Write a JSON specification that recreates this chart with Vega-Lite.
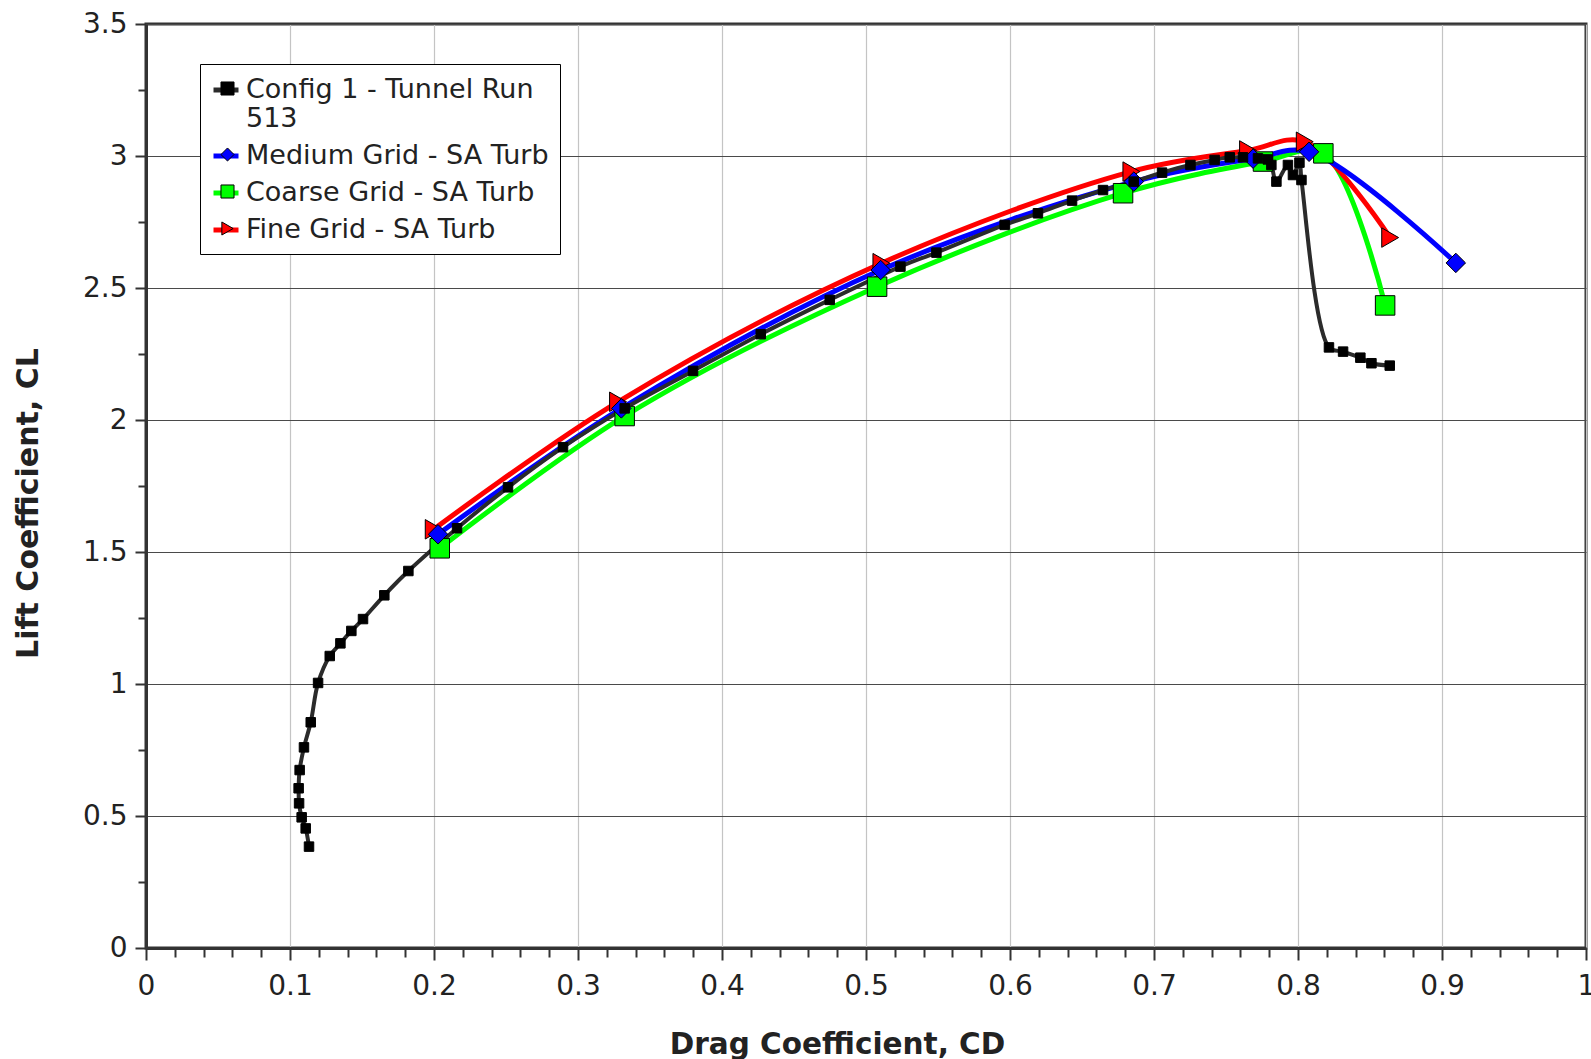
{
  "$schema": "https://vega.github.io/schema/vega-lite/v6.json",
  "width": 1440,
  "height": 924,
  "autosize": {"type": "none"},
  "padding": {"left": 146, "top": 24, "right": 5, "bottom": 111},
  "background": "white",
  "config": {"font": "DejaVu Sans", "view": {"stroke": "#333333", "strokeWidth": 3}},
  "data": {"values": [
    {"s": "Coarse Grid - SA Turb", "i": 0, "cd": 0.204, "cl": 1.514},
    {"s": "Coarse Grid - SA Turb", "i": 1, "cd": 0.3324, "cl": 2.015},
    {"s": "Coarse Grid - SA Turb", "i": 2, "cd": 0.5077, "cl": 2.505},
    {"s": "Coarse Grid - SA Turb", "i": 3, "cd": 0.6785, "cl": 2.859},
    {"s": "Coarse Grid - SA Turb", "i": 4, "cd": 0.7757, "cl": 2.979},
    {"s": "Coarse Grid - SA Turb", "i": 5, "cd": 0.8176, "cl": 3.01},
    {"s": "Coarse Grid - SA Turb", "i": 6, "cd": 0.8605, "cl": 2.434},
    {"s": "Fine Grid - SA Turb", "i": 0, "cd": 0.1998, "cl": 1.586},
    {"s": "Fine Grid - SA Turb", "i": 1, "cd": 0.3278, "cl": 2.069},
    {"s": "Fine Grid - SA Turb", "i": 2, "cd": 0.5107, "cl": 2.594},
    {"s": "Fine Grid - SA Turb", "i": 3, "cd": 0.6843, "cl": 2.941},
    {"s": "Fine Grid - SA Turb", "i": 4, "cd": 0.7653, "cl": 3.021},
    {"s": "Fine Grid - SA Turb", "i": 5, "cd": 0.8047, "cl": 3.054},
    {"s": "Fine Grid - SA Turb", "i": 6, "cd": 0.8640, "cl": 2.691},
    {"s": "Medium Grid - SA Turb", "i": 0, "cd": 0.2028, "cl": 1.567},
    {"s": "Medium Grid - SA Turb", "i": 1, "cd": 0.3301, "cl": 2.044},
    {"s": "Medium Grid - SA Turb", "i": 2, "cd": 0.5102, "cl": 2.568},
    {"s": "Medium Grid - SA Turb", "i": 3, "cd": 0.686, "cl": 2.903},
    {"s": "Medium Grid - SA Turb", "i": 4, "cd": 0.7688, "cl": 2.99},
    {"s": "Medium Grid - SA Turb", "i": 5, "cd": 0.8077, "cl": 3.016},
    {"s": "Medium Grid - SA Turb", "i": 6, "cd": 0.9096, "cl": 2.595},
    {"s": "Config 1 - Tunnel Run 513", "i": 0, "cd": 0.1132, "cl": 0.384},
    {"s": "Config 1 - Tunnel Run 513", "i": 1, "cd": 0.1109, "cl": 0.453},
    {"s": "Config 1 - Tunnel Run 513", "i": 2, "cd": 0.1081, "cl": 0.495},
    {"s": "Config 1 - Tunnel Run 513", "i": 3, "cd": 0.1063, "cl": 0.548},
    {"s": "Config 1 - Tunnel Run 513", "i": 4, "cd": 0.106, "cl": 0.605},
    {"s": "Config 1 - Tunnel Run 513", "i": 5, "cd": 0.1067, "cl": 0.674},
    {"s": "Config 1 - Tunnel Run 513", "i": 6, "cd": 0.1097, "cl": 0.76},
    {"s": "Config 1 - Tunnel Run 513", "i": 7, "cd": 0.1144, "cl": 0.855},
    {"s": "Config 1 - Tunnel Run 513", "i": 8, "cd": 0.1195, "cl": 1.004},
    {"s": "Config 1 - Tunnel Run 513", "i": 9, "cd": 0.1276, "cl": 1.106},
    {"s": "Config 1 - Tunnel Run 513", "i": 10, "cd": 0.135, "cl": 1.154},
    {"s": "Config 1 - Tunnel Run 513", "i": 11, "cd": 0.1426, "cl": 1.201},
    {"s": "Config 1 - Tunnel Run 513", "i": 12, "cd": 0.1507, "cl": 1.246},
    {"s": "Config 1 - Tunnel Run 513", "i": 13, "cd": 0.1655, "cl": 1.336},
    {"s": "Config 1 - Tunnel Run 513", "i": 14, "cd": 0.1822, "cl": 1.428},
    {"s": "Config 1 - Tunnel Run 513", "i": 15, "cd": 0.216, "cl": 1.59},
    {"s": "Config 1 - Tunnel Run 513", "i": 16, "cd": 0.2514, "cl": 1.745},
    {"s": "Config 1 - Tunnel Run 513", "i": 17, "cd": 0.2896, "cl": 1.897},
    {"s": "Config 1 - Tunnel Run 513", "i": 18, "cd": 0.3324, "cl": 2.044},
    {"s": "Config 1 - Tunnel Run 513", "i": 19, "cd": 0.3799, "cl": 2.186},
    {"s": "Config 1 - Tunnel Run 513", "i": 20, "cd": 0.4269, "cl": 2.325},
    {"s": "Config 1 - Tunnel Run 513", "i": 21, "cd": 0.4748, "cl": 2.455},
    {"s": "Config 1 - Tunnel Run 513", "i": 22, "cd": 0.5239, "cl": 2.581},
    {"s": "Config 1 - Tunnel Run 513", "i": 23, "cd": 0.5489, "cl": 2.634},
    {"s": "Config 1 - Tunnel Run 513", "i": 24, "cd": 0.5963, "cl": 2.739},
    {"s": "Config 1 - Tunnel Run 513", "i": 25, "cd": 0.6194, "cl": 2.783},
    {"s": "Config 1 - Tunnel Run 513", "i": 26, "cd": 0.6431, "cl": 2.831},
    {"s": "Config 1 - Tunnel Run 513", "i": 27, "cd": 0.6646, "cl": 2.871},
    {"s": "Config 1 - Tunnel Run 513", "i": 28, "cd": 0.6859, "cl": 2.903},
    {"s": "Config 1 - Tunnel Run 513", "i": 29, "cd": 0.7056, "cl": 2.937},
    {"s": "Config 1 - Tunnel Run 513", "i": 30, "cd": 0.7253, "cl": 2.966},
    {"s": "Config 1 - Tunnel Run 513", "i": 31, "cd": 0.7421, "cl": 2.985},
    {"s": "Config 1 - Tunnel Run 513", "i": 32, "cd": 0.7526, "cl": 2.995},
    {"s": "Config 1 - Tunnel Run 513", "i": 33, "cd": 0.7618, "cl": 2.995},
    {"s": "Config 1 - Tunnel Run 513", "i": 34, "cd": 0.7722, "cl": 2.991},
    {"s": "Config 1 - Tunnel Run 513", "i": 35, "cd": 0.779, "cl": 2.987},
    {"s": "Config 1 - Tunnel Run 513", "i": 36, "cd": 0.7815, "cl": 2.966},
    {"s": "Config 1 - Tunnel Run 513", "i": 37, "cd": 0.785, "cl": 2.903},
    {"s": "Config 1 - Tunnel Run 513", "i": 38, "cd": 0.793, "cl": 2.966},
    {"s": "Config 1 - Tunnel Run 513", "i": 39, "cd": 0.7965, "cl": 2.928},
    {"s": "Config 1 - Tunnel Run 513", "i": 40, "cd": 0.801, "cl": 2.975},
    {"s": "Config 1 - Tunnel Run 513", "i": 41, "cd": 0.8024, "cl": 2.909},
    {"s": "Config 1 - Tunnel Run 513", "i": 42, "cd": 0.8215, "cl": 2.275},
    {"s": "Config 1 - Tunnel Run 513", "i": 43, "cd": 0.8313, "cl": 2.259},
    {"s": "Config 1 - Tunnel Run 513", "i": 44, "cd": 0.8433, "cl": 2.236},
    {"s": "Config 1 - Tunnel Run 513", "i": 45, "cd": 0.851, "cl": 2.215},
    {"s": "Config 1 - Tunnel Run 513", "i": 46, "cd": 0.8637, "cl": 2.206}
  ]},
  "encoding": {
    "x": {
      "field": "cd", "type": "quantitative",
      "scale": {"domain": [0, 1], "nice": false, "zero": false},
      "axis": {
        "title": "Drag Coefficient, CD",
        "values": [0,0.02,0.04,0.06,0.08,0.1,0.12,0.14,0.16,0.18,0.2,0.22,0.24,0.26,0.28,0.3,0.32,0.34,0.36,0.38,0.4,0.42,0.44,0.46,0.48,0.5,0.52,0.54,0.56,0.58,0.6,0.62,0.64,0.66,0.68,0.7,0.72,0.74,0.76,0.78,0.8,0.82,0.84,0.86,0.88,0.9,0.92,0.94,0.96,0.98,1],
        "labelExpr": "abs(datum.value*10 - round(datum.value*10)) < 0.001 ? format(datum.value, '.1~f') : ''",
        "labelOverlap": false,
        "labelFlush": false,
        "labelFontSize": 28,
        "labelColor": "#222222",
        "labelPadding": 12,
        "tickSize": {"condition": {"test": "abs(datum.value*10 - round(datum.value*10)) < 0.001", "value": 12}, "value": 9},
        "tickColor": "#333333",
        "tickWidth": 2,
        "domainColor": "#333333",
        "domainWidth": 3,
        "grid": true,
        "gridColor": "#c4c4c4",
        "gridWidth": 1.2,
        "gridOpacity": {"condition": {"test": "abs(datum.value*10 - round(datum.value*10)) < 0.001", "value": 1}, "value": 0},
        "titleFontSize": 29.5,
        "titleFontWeight": "bold",
        "titleColor": "#222222",
        "titleX": 691,
        "titleY": 105,
        "titleBaseline": "alphabetic",
        "titleAlign": "center"
      }
    },
    "y": {
      "field": "cl", "type": "quantitative",
      "scale": {"domain": [0, 3.5], "nice": false, "zero": false},
      "axis": {
        "title": "Lift Coefficient, CL",
        "values": [0,0.25,0.5,0.75,1,1.25,1.5,1.75,2,2.25,2.5,2.75,3,3.25,3.5],
        "labelExpr": "abs(datum.value*2 - round(datum.value*2)) < 0.001 ? format(datum.value, '.1~f') : ''",
        "labelOverlap": false,
        "labelFlush": false,
        "labelFontSize": 28,
        "labelColor": "#222222",
        "labelPadding": 8,
        "tickSize": {"condition": {"test": "abs(datum.value*2 - round(datum.value*2)) < 0.001", "value": 11}, "value": 8},
        "tickColor": "#333333",
        "tickWidth": 2,
        "domainColor": "#333333",
        "domainWidth": 3,
        "grid": true,
        "gridColor": "#4a4a4a",
        "gridWidth": 1.2,
        "gridOpacity": {"condition": {"test": "abs(datum.value*2 - round(datum.value*2)) < 0.001", "value": 1}, "value": 0},
        "titleFontSize": 30,
        "titleFontWeight": "bold",
        "titleColor": "#222222",
        "titleAngle": -90,
        "titleX": -109,
        "titleY": 479,
        "titleBaseline": "alphabetic",
        "titleAlign": "center"
      }
    }
  },
  "layer": [
    {
      "mark": {"type": "line", "interpolate": "catmull-rom"},
      "encoding": {
        "order": {"field": "i", "type": "quantitative"},
        "strokeWidth": {"condition": {"test": "datum.s == 'Config 1 - Tunnel Run 513'", "value": 4}, "value": 5},
        "stroke": {
          "field": "s", "type": "nominal",
          "sort": ["Config 1 - Tunnel Run 513", "Medium Grid - SA Turb", "Coarse Grid - SA Turb", "Fine Grid - SA Turb"],
          "scale": {"range": ["#2b2b2b", "#0000ff", "#00ff00", "#ff0000"]},
          "legend": {"orient": "none", "legendX": 54, "legendY": 40, "title": null, "padding": 11, "rowPadding": 9, "fillColor": "white", "strokeColor": "black", "symbolType": "stroke", "symbolSize": 625, "symbolStrokeWidth": 5, "labelFontSize": 27, "labelColor": "#222222", "labelLimit": 1000, "labelOffset": 5, "labelExpr": "datum.label == 'Config 1 - Tunnel Run 513' ? ['Config 1 - Tunnel Run', '513'] : datum.label", "zindex": 1}
        }
      }
    },
    {
      "mark": {"type": "point", "filled": true, "opacity": 1, "stroke": "black", "strokeWidth": 1},
      "encoding": {
        "color": {
          "field": "s", "type": "nominal",
          "scale": {"domain": ["Config 1 - Tunnel Run 513", "Medium Grid - SA Turb", "Coarse Grid - SA Turb", "Fine Grid - SA Turb"], "range": ["#000000", "#0000ff", "#00ff00", "#ff0000"]},
          "legend": {"orient": "none", "legendX": 54, "legendY": 40, "title": null, "padding": 11, "rowPadding": 9, "symbolSize": 170, "symbolStrokeColor": "black", "symbolStrokeWidth": 1, "symbolOffset": 3, "labelFontSize": 27, "labelOpacity": 0, "labelLimit": 1000, "labelOffset": 5, "labelExpr": "datum.label == 'Config 1 - Tunnel Run 513' ? ['Config 1 - Tunnel Run', '513'] : datum.label", "zindex": 2}
        },
        "shape": {
          "field": "s", "type": "nominal",
          "scale": {"domain": ["Config 1 - Tunnel Run 513", "Medium Grid - SA Turb", "Coarse Grid - SA Turb", "Fine Grid - SA Turb"], "range": ["square", "diamond", "square", "triangle-right"]},
          "legend": {"orient": "none", "legendX": 54, "legendY": 40, "title": null, "padding": 11, "rowPadding": 9, "symbolSize": 170, "symbolStrokeColor": "black", "symbolStrokeWidth": 1, "symbolOffset": 3, "labelFontSize": 27, "labelOpacity": 0, "labelLimit": 1000, "labelOffset": 5, "labelExpr": "datum.label == 'Config 1 - Tunnel Run 513' ? ['Config 1 - Tunnel Run', '513'] : datum.label", "zindex": 2}
        },
        "size": {"condition": {"test": "datum.s == 'Config 1 - Tunnel Run 513'", "value": 90}, "value": 380}
      }
    }
  ]
}
